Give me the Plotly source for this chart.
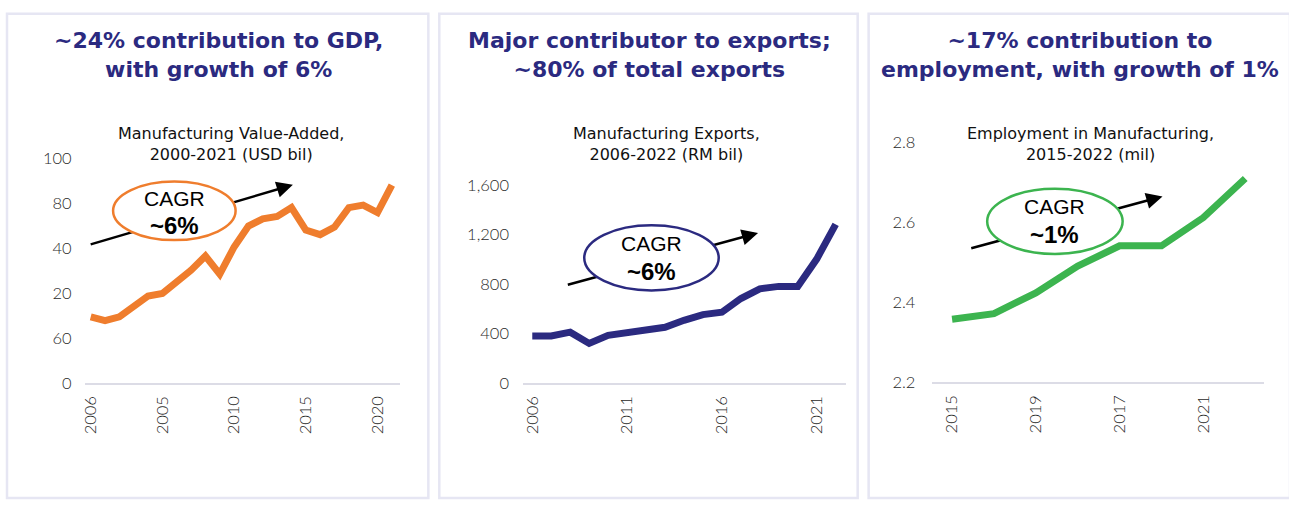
import plotly.graph_objects as go

W, H = 1289, 509

# ---------------- data ----------------
va_years = list(range(2000, 2022))
va_values = [29.3, 27.6, 29.3, 33.6, 38.6, 39.7, 44.7, 50.1, 56.4, 48.3, 60.4,
             69.7, 72.9, 74.0, 77.9, 67.9, 65.9, 69.3, 77.9, 79.0, 75.7, 87.9]
va_ytickvals = [0, 20, 40, 60, 80, 100]
va_yticktext = ["0", "60", "20", "40", "80", "100"]
va_xtickvals = [2000, 2005, 2010, 2015, 2020]
va_xticktext = ["2006", "2005", "2010", "2015", "2020"]

ex_years = list(range(2006, 2023))
ex_values = [378, 378, 409, 318, 383, 404, 422, 448, 505, 551, 570, 681, 759,
             779, 779, 1000, 1280]
ex_ytickvals = [0, 400, 800, 1200, 1600]
ex_yticktext = ["0", "400", "800", "1,200", "1,600"]
ex_xtickvals = [2006, 2011, 2016, 2021]
ex_xticktext = ["2006", "2011", "2016", "2021"]

em_years = list(range(2015, 2023))
em_values = [2.357, 2.371, 2.423, 2.490, 2.541, 2.541, 2.612, 2.710]
em_ytickvals = [2.2, 2.4, 2.6, 2.8]
em_yticktext = ["2.2", "2.4", "2.6", "2.8"]
em_xtickvals = [2015, 2017, 2019, 2021]
em_xticktext = ["2015", "2019", "2017", "2021"]

titles = ["~24% contribution to GDP,<br>with growth of 6%",
          "Major contributor to exports;<br>~80% of total exports",
          "~17% contribution to<br>employment, with growth of 1%"]
subtitles = ["Manufacturing Value-Added,<br>2000-2021 (USD bil)",
             "Manufacturing Exports,<br>2006-2022 (RM bil)",
             "Employment in Manufacturing,<br>2015-2022 (mil)"]
cagr_labels = ["~6%", "~6%", "~1%"]

ORANGE = "#ef7d2d"
NAVY = "#2b2a80"
GREEN = "#3cb44f"
colors = [ORANGE, NAVY, GREEN]

def px(x):
    return x / W

def py(y):
    return 1 - y / H

fig = go.Figure()

panels = [
    dict(x=va_years, y=va_values, xr=[1999.58, 2021.6], yr=[0, 100],
         xdom=[80, 397], ydom=[388, 154],
         ytv=va_ytickvals, ytt=va_yticktext, xtv=va_xtickvals, xtt=va_xticktext),
    dict(x=ex_years, y=ex_values, xr=[2005.51, 2022.53], yr=[0, 1600],
         xdom=[520, 844], ydom=[388, 182],
         ytv=ex_ytickvals, ytt=ex_yticktext, xtv=ex_xtickvals, xtt=ex_xticktext),
    dict(x=em_years, y=em_values, xr=[2014.53, 2022.45], yr=[2.2, 2.8],
         xdom=[931, 1264], ydom=[387, 138],
         ytv=em_ytickvals, ytt=em_yticktext, xtv=em_xtickvals, xtt=em_xticktext),
]
ystandoff = [12, 13, 16]

tick_font = dict(family="Lato, 'DejaVu Sans', sans-serif", size=16.5, color="#2a2a2a", weight=300)

for i, p in enumerate(panels):
    n = "" if i == 0 else str(i + 1)
    fig.add_trace(go.Scatter(x=p["x"], y=p["y"], mode="lines",
                             line=dict(color=colors[i], width=7),
                             xaxis="x" + n, yaxis="y" + n,
                             showlegend=False, hoverinfo="skip"))
    fig.layout["xaxis" + n] = dict(
        domain=[px(p["xdom"][0]), px(p["xdom"][1])], range=p["xr"],
        anchor="y" + n, tickmode="array", tickvals=p["xtv"], ticktext=p["xtt"],
        tickangle=-90, showgrid=False, zeroline=False, showline=True,
        linecolor="#dcdce6", linewidth=1.5, ticks="", tickfont=tick_font,
        ticklabelstandoff=5, fixedrange=True)
    fig.layout["yaxis" + n] = dict(
        domain=[py(p["ydom"][0]), py(p["ydom"][1])], range=p["yr"],
        anchor="x" + n, tickmode="array", tickvals=p["ytv"], ticktext=p["ytt"],
        showgrid=False, zeroline=False, showline=False, ticks="",
        tickfont=tick_font, ticklabelstandoff=ystandoff[i], fixedrange=True)

shapes = []
annotations = []

# panel borders
for (x0, x1) in [(2, 425), (436, 856), (867, 1290)]:
    shapes.append(dict(type="rect", xref="paper", yref="paper",
                       x0=px(x0), x1=px(x1), y0=py(508), y1=py(4),
                       line=dict(color="#e6e6f3", width=2.5), fillcolor="rgba(0,0,0,0)",
                       layer="below"))

# titles and subtitles
title_x = [214, 647, 1079]
sub_x = [227, 664, 1090]
for i in range(3):
    annotations.append(dict(xref="paper", yref="paper", x=px(title_x[i]), y=py(47),
                            text="<b>" + titles[i] + "</b>", showarrow=False,
                            xanchor="center", yanchor="middle",
                            font=dict(family="'DejaVu Sans', sans-serif", size=22, color=NAVY),
                            align="center"))
    annotations.append(dict(xref="paper", yref="paper", x=px(sub_x[i]), y=py(139),
                            text=subtitles[i], showarrow=False,
                            xanchor="center", yanchor="middle",
                            font=dict(family="'DejaVu Sans', sans-serif", size=16, color="#111111"),
                            align="center"))

# CAGR arrows + ellipses
arrows = [((86, 244), (289, 182)), ((565, 286), (756, 232)), ((970, 248), (1162, 194))]
ellipses = [((170, 209), 123, 61), ((649, 258), 135, 68), ((1054, 220), 136, 68)]
cagr_txt_y = [(196, 224), (243, 272), (205, 234)]
for i in range(3):
    (xa, ya), (xb, yb) = arrows[i]
    shapes.append(dict(type="line", xref="paper", yref="paper",
                       x0=px(xa), y0=py(ya), x1=px(xb - 4), y1=py(yb + 1.2),
                       line=dict(color="black", width=2.5), layer="above"))
    (cx, cy), ew, eh = ellipses[i]
    shapes.append(dict(type="circle", xref="paper", yref="paper",
                       x0=px(cx - ew / 2), x1=px(cx + ew / 2),
                       y0=py(cy + eh / 2), y1=py(cy - eh / 2),
                       line=dict(color=colors[i], width=2.5), fillcolor="white",
                       layer="above"))
    dx, dy = xb - xa, yb - ya
    L = (dx ** 2 + dy ** 2) ** 0.5
    annotations.append(dict(xref="paper", yref="paper", x=px(xb), y=py(yb),
                            ax=-dx / L * 14, ay=-dy / L * 14, text="", showarrow=True,
                            arrowhead=2, arrowsize=1.3, arrowwidth=2.5, arrowcolor="black"))
    annotations.append(dict(xref="paper", yref="paper", x=px(cx), y=py(cagr_txt_y[i][0]),
                            text="CAGR", showarrow=False, xanchor="center", yanchor="middle",
                            font=dict(family="'Liberation Sans', Arial, sans-serif", size=21, color="black")))
    annotations.append(dict(xref="paper", yref="paper", x=px(cx), y=py(cagr_txt_y[i][1]),
                            text="<b>" + cagr_labels[i] + "</b>", showarrow=False,
                            xanchor="center", yanchor="middle",
                            font=dict(family="'Liberation Sans', Arial, sans-serif", size=24, color="black")))

fig.update_layout(width=W, height=H, margin=dict(l=0, r=0, t=0, b=0),
                  paper_bgcolor="white", plot_bgcolor="white",
                  shapes=shapes, annotations=annotations, showlegend=False)

fig.write_html("out.html", config={"displayModeBar": False})
